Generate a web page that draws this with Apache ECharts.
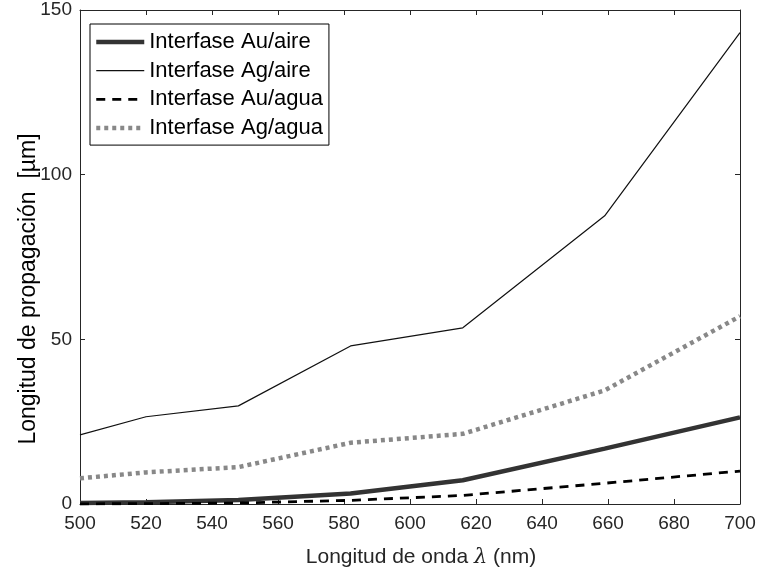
<!DOCTYPE html>
<html>
<head>
<meta charset="utf-8">
<script src="https://cdn.jsdelivr.net/npm/echarts@6/dist/echarts.min.js"></script>
<style>
html,body{margin:0;padding:0;background:#fff;}
#chart{width:757px;height:577px;}
</style>
</head>
<body>
<div id="chart"></div>
<script>
const wavelengths = [500, 520, 548, 582, 616, 659, 700];
const auAire = [0.3, 0.5, 1.2, 3.2, 7.2, 16.8, 26.3];
const agAire = [21.0, 26.5, 29.8, 48.0, 53.5, 87.5, 143.1];
const auAgua = [0.05, 0.1, 0.3, 1.1, 2.6, 6.3, 10.0];
const agAgua = [7.8, 9.6, 11.2, 18.6, 21.3, 34.5, 57.0];
const seriesNames = ['Interfase Au/aire', 'Interfase Ag/aire', 'Interfase Au/agua', 'Interfase Ag/agua'];
const xTitle = 'Longitud de onda ';
const yTitle = 'Longitud de propagación  [µm]';

const pairs = arr => wavelengths.map((x, i) => [x, arr[i]]);
const FONT = 'Liberation Sans, Arial, sans-serif';
const AX = '#262626';

const styles = [
  {color: '#333333', width: 4.5, type: 'solid'},
  {color: '#111111', width: 1.2, type: 'solid'},
  {color: '#000000', width: 2.8, type: [9, 7]},
  {color: '#888888', width: 4.5, type: [4, 4]}
];

const chart = echarts.init(document.getElementById('chart'));
const boxAxisX = (pos, show) => ({
  type: 'value', min: 500, max: 700, interval: 20, position: pos,
  axisLine: {show: true, onZero: false, lineStyle: {color: AX, width: 1}},
  axisTick: {show: true, inside: true, length: 5, lineStyle: {color: AX}},
  splitLine: {show: false},
  axisLabel: {show: show, color: AX, fontFamily: FONT, fontSize: 19, margin: 10}
});
const boxAxisY = (pos, show) => ({
  type: 'value', min: 0, max: 150, interval: 50, position: pos,
  axisLine: {show: true, onZero: false, lineStyle: {color: AX, width: 1}},
  axisTick: {show: true, inside: true, length: 5, lineStyle: {color: AX}},
  splitLine: {show: false},
  axisLabel: {show: show, color: AX, fontFamily: FONT, fontSize: 19, margin: 8}
});

const xMain = boxAxisX('bottom', true);
xMain.name = '{t|' + xTitle + '}{l|λ}{t| (nm)}';
xMain.nameLocation = 'middle';
xMain.nameGap = 43;
xMain.nameMoveOverlap = false;
xMain.nameTextStyle = {
  padding: [0, 0, 0, 22],
  rich: {
    t: {fontFamily: FONT, fontSize: 21, color: AX},
    l: {fontFamily: 'DejaVu Serif, serif', fontStyle: 'italic', fontSize: 21, color: AX}
  }
};
const yMain = boxAxisY('left', true);
yMain.name = yTitle;
yMain.nameLocation = 'middle';
yMain.nameGap = 40;
yMain.nameMoveOverlap = false;
yMain.nameTextStyle = {fontFamily: FONT, fontSize: 23, color: '#000', padding: [0, 64, 0, 0]};

chart.setOption({
  animation: false,
  backgroundColor: '#fff',
  grid: {left: 80, right: 17, top: 10, bottom: 73, containLabel: false, outerBoundsMode: 'none'},
  xAxis: [xMain, boxAxisX('top', false)],
  yAxis: [yMain, boxAxisY('right', false)],
  legend: {
    orient: 'vertical', left: 90, top: 24,
    padding: [7, 6, 6, 4],
    itemGap: 6.7, itemWidth: 48, itemHeight: 14,
    borderColor: '#000', borderWidth: 1, backgroundColor: '#fff', borderRadius: 0,
    itemStyle: {opacity: 0},
    textStyle: {fontFamily: FONT, fontSize: 22, lineHeight: 22, color: '#000'},
    data: seriesNames.map((n, i) => ({
      name: n,
      itemStyle: {opacity: 0},
      lineStyle: {color: styles[i].color, width: styles[i].width, type: styles[i].type, opacity: 1}
    }))
  },
  series: seriesNames.map((n, i) => ({
    name: n, type: 'line', data: pairs([auAire, agAire, auAgua, agAgua][i]), symbol: 'none',
    lineStyle: {color: styles[i].color, width: styles[i].width, type: styles[i].type},
    itemStyle: {color: styles[i].color},
    z: [3, 4, 5, 2][i]
  }))
});
</script>
</body>
</html>
